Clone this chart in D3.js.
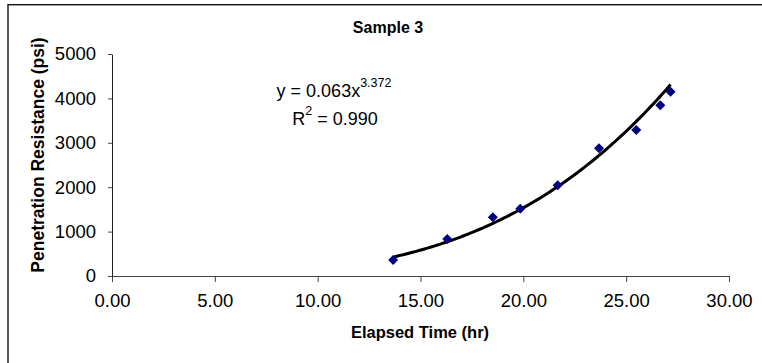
<!DOCTYPE html>
<html>
<head>
<meta charset="utf-8">
<script src="https://cdn.jsdelivr.net/npm/d3@7"></script>
<style>
  html, body { margin: 0; padding: 0; background: #fff; }
  svg { display: block; font-family: "Liberation Sans", Arial, sans-serif; }
</style>
</head>
<body>
<svg id="chart" width="762" height="363"></svg>
<script>
// Measured penetration resistance over elapsed time
const elapsedHours = [13.67, 16.30, 18.52, 19.85, 21.67, 23.68, 25.49, 26.66, 27.16];
const resistancePsi = [360, 833, 1322, 1516, 2043, 2876, 3288, 3845, 4151];

// Power-law trendline y = a * x^b
const fitCoefA = 0.063;
const fitCoefB = 3.372;
const fitR2 = "0.990";

const xTickValues = [0, 5, 10, 15, 20, 25, 30];
const yTickValues = [0, 1000, 2000, 3000, 4000, 5000];

const svg = d3.select("#chart");

// Outer chart frame
svg.append("rect")
  .attr("x", 8).attr("y", 4.7)
  .attr("width", 800).attr("height", 400)
  .attr("fill", "none").attr("stroke", "#111").attr("stroke-width", 1.4);

const x = d3.scaleLinear().domain([0, 30]).range([112, 729]);
const y = d3.scaleLinear().domain([0, 5000]).range([276, 54]);

// Title
svg.append("text")
  .attr("x", 388).attr("y", 33)
  .attr("text-anchor", "middle")
  .attr("font-weight", "bold").attr("font-size", 16)
  .text("Sample 3");

// X axis
const xAxis = svg.append("g")
  .attr("transform", `translate(0,${y(0)})`)
  .call(d3.axisBottom(x).tickValues(xTickValues).tickFormat(d3.format(".2f"))
    .tickSizeInner(6).tickSizeOuter(6).tickPadding(12));
xAxis.select(".domain").attr("stroke", "#444");
xAxis.selectAll(".tick line").attr("stroke", "#444");
xAxis.selectAll(".tick text").attr("font-size", 18.5).attr("fill", "#000")
  .attr("font-family", "Liberation Sans, Arial, sans-serif");

// Y axis
const yAxis = svg.append("g")
  .attr("transform", `translate(${x(0)},0)`)
  .call(d3.axisLeft(y).tickValues(yTickValues).tickFormat(d3.format("d"))
    .tickSizeInner(4).tickSizeOuter(0).tickPadding(12));
yAxis.select(".domain").attr("stroke", "#222");
yAxis.selectAll(".tick line").attr("stroke", "#444");
yAxis.selectAll(".tick text").attr("font-size", 18.5).attr("fill", "#000")
  .attr("font-family", "Liberation Sans, Arial, sans-serif");

// Axis titles
svg.append("text")
  .attr("x", 420).attr("y", 338)
  .attr("text-anchor", "middle")
  .attr("font-weight", "bold").attr("font-size", 16.5)
  .text("Elapsed Time (hr)");

svg.append("text")
  .attr("transform", "translate(44,155) rotate(-90)")
  .attr("text-anchor", "middle")
  .attr("font-weight", "bold").attr("font-size", 17.5)
  .text("Penetration Resistance (psi)");

// Trendline across the range of the measurements
const xMin = d3.min(elapsedHours), xMax = d3.max(elapsedHours);
const fitPts = d3.range(0, 101).map(i => {
  const t = xMin + (xMax - xMin) * i / 100;
  return [t, fitCoefA * Math.pow(t, fitCoefB)];
});
svg.append("path")
  .datum(fitPts)
  .attr("fill", "none")
  .attr("stroke", "#000")
  .attr("stroke-width", 3)
  .attr("d", d3.line().x(d => x(d[0])).y(d => y(d[1])));

// Data markers (diamonds)
const diamond = d3.symbol().type(d3.symbolSquare).size(50);
svg.append("g")
  .selectAll("path")
  .data(elapsedHours.map((h, i) => [h, resistancePsi[i]]))
  .join("path")
  .attr("d", diamond)
  .attr("transform", d => `translate(${x(d[0])},${y(d[1])}) rotate(45)`)
  .attr("fill", "#000080");

// Trendline equation
const eq = svg.append("text")
  .attr("x", 334).attr("y", 97)
  .attr("text-anchor", "middle")
  .attr("font-size", 18);
eq.append("tspan").text(`y = ${fitCoefA.toFixed(3)}x`);
eq.append("tspan").attr("dy", -10).attr("font-size", 12.5).text(fitCoefB.toFixed(3));

const r2 = svg.append("text")
  .attr("x", 335).attr("y", 125)
  .attr("text-anchor", "middle")
  .attr("font-size", 18);
r2.append("tspan").text("R");
r2.append("tspan").attr("dy", -10).attr("font-size", 12.5).text("2");
r2.append("tspan").attr("dy", 10).text(` = ${fitR2}`);
</script>
</body>
</html>
